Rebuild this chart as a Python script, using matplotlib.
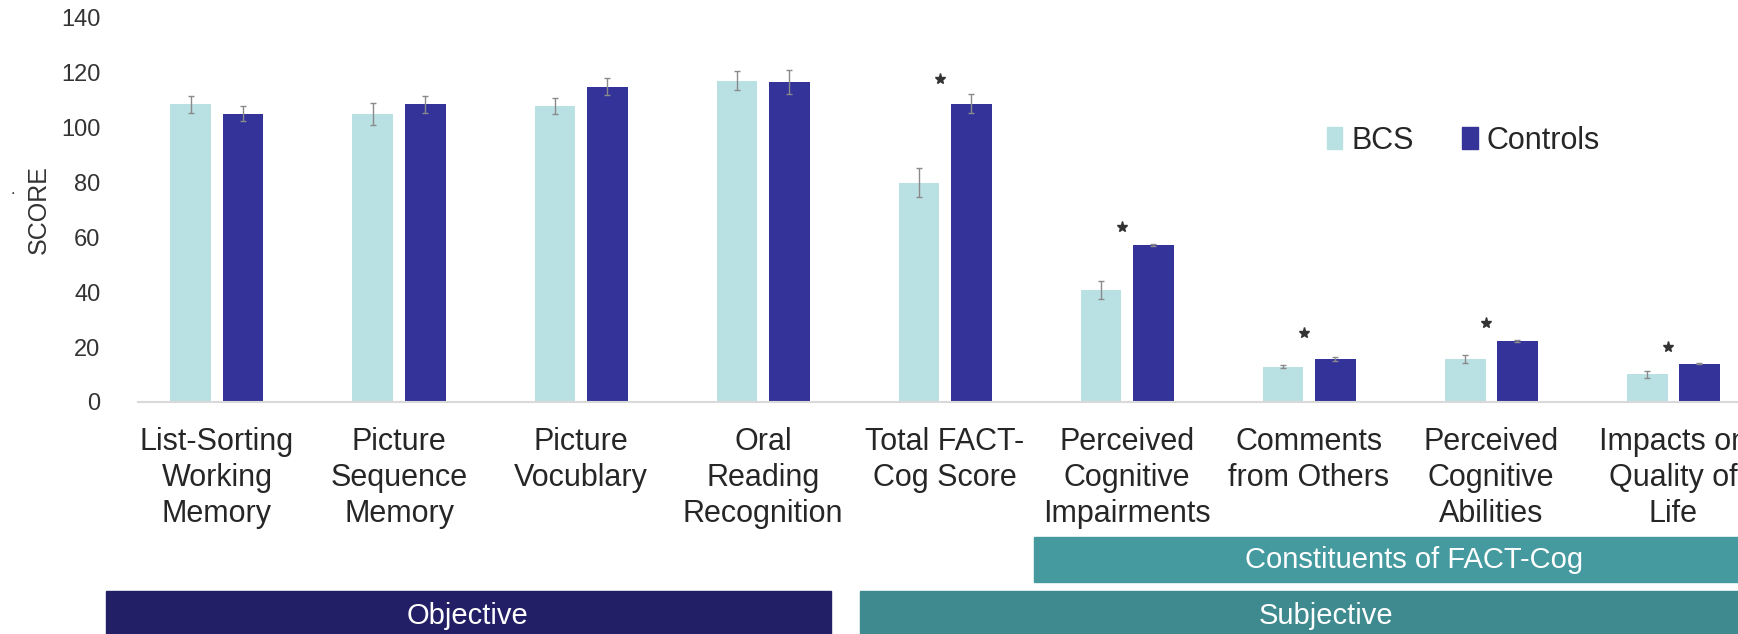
import numpy as np
import matplotlib.pyplot as plt
from matplotlib.patches import Rectangle, Patch

plt.rcParams['font.family'] = ['Liberation Sans', 'DejaVu Sans']

# --- data ---
categories = [
    "List-Sorting\nWorking\nMemory",
    "Picture\nSequence\nMemory",
    "Picture\nVocublary",
    "Oral\nReading\nRecognition",
    "Total FACT-\nCog Score",
    "Perceived\nCognitive\nImpairments",
    "Comments\nfrom Others",
    "Perceived\nCognitive\nAbilities",
    "Impacts on\nQuality of\nLife",
]
bcs = [108.5, 105.0, 107.9, 117.1, 80.0, 40.8, 12.9, 15.7, 10.1]
bcs_err = [3.0, 4.0, 3.0, 3.4, 5.4, 3.3, 0.5, 1.5, 1.3]
controls = [105.1, 108.5, 115.0, 116.7, 108.8, 57.2, 15.7, 22.2, 13.9]
controls_err = [2.7, 3.0, 3.0, 4.5, 3.5, 0.5, 0.7, 0.5, 0.2]
# significance stars: category index and height
star_idx = [4, 5, 6, 7, 8]
star_y = [117.8, 63.9, 25.0, 28.7, 20.2]

C_BCS = "#b9e1e4"
C_CTRL = "#333399"
W, H = 1738, 634

fig = plt.figure(figsize=(W / 100, H / 100), dpi=100)
ax = fig.add_axes([138 / W, 1 - 402 / H, 0.9356, (402 - 18) / H])

x = np.arange(len(categories))
bw = 0.225
off = 0.143
ax.bar(x - off, bcs, bw, color=C_BCS, zorder=2)
ax.bar(x + off, controls, bw, color=C_CTRL, zorder=2)
ax.errorbar(x - off, bcs, yerr=bcs_err, fmt="none", ecolor="#8a8a8a",
            elinewidth=1, capsize=2.5, capthick=1, zorder=3)
ax.errorbar(x + off, controls, yerr=controls_err, fmt="none", ecolor="#8a8a8a",
            elinewidth=1, capsize=2.5, capthick=1, zorder=3)

ax.plot(x[star_idx] - 0.03, star_y, linestyle="none", marker="*",
        markersize=8, color="#333333", zorder=4)

ax.set_xlim(-0.434, 8.5)
ax.set_ylim(0, 140)
ax.set_yticks(np.arange(0, 141, 20))
ax.set_xticks(x)
ax.set_xticklabels(categories, fontsize=22, color="#262626", linespacing=1.27)
ax.tick_params(axis="y", length=0, labelsize=17, labelcolor="#333333", pad=27)
ax.tick_params(axis="x", length=0, pad=18)
for s in ["top", "right", "left"]:
    ax.spines[s].set_visible(False)
ax.spines["bottom"].set_color("#d9d9d9")
ax.spines["bottom"].set_linewidth(1.5)

fig.text(39 / W, 1 - 210 / H, "SCORE", rotation=90, ha="center", va="center",
         fontsize=18, color="#333333")
fig.text(13 / W, 1 - 190 / H, ".", ha="center", va="center", fontsize=12,
         color="#333333")

handles = [Patch(color=C_BCS, label="BCS"), Patch(color=C_CTRL, label="Controls")]
ax.legend(handles=handles, loc="center", bbox_to_anchor=(0.842, 0.778),
          bbox_transform=fig.transFigure, ncol=2, frameon=False, fontsize=22,
          handlelength=0.5, handleheight=0.7, handletextpad=0.3,
          columnspacing=1.6, labelcolor="#262626")


def box(x0, y0, x1, y1, color, label, tx):
    fig.add_artist(Rectangle((x0 / W, 1 - y1 / H), (x1 - x0) / W, (y1 - y0) / H,
                             transform=fig.transFigure, color=color))
    fig.text(tx / W, 1 - (y0 + y1) / 2 / H, label, ha="center", va="center",
             fontsize=21, color="white")


box(1034, 537, 1800, 582, "#459a9f", "Constituents of FACT-Cog", 1414)
box(106, 591, 831, 640, "#231f66", "Objective", 468)
box(860, 591, 1800, 640, "#3e8a8e", "Subjective", 1326)

fig.savefig("out.png", dpi=100)
